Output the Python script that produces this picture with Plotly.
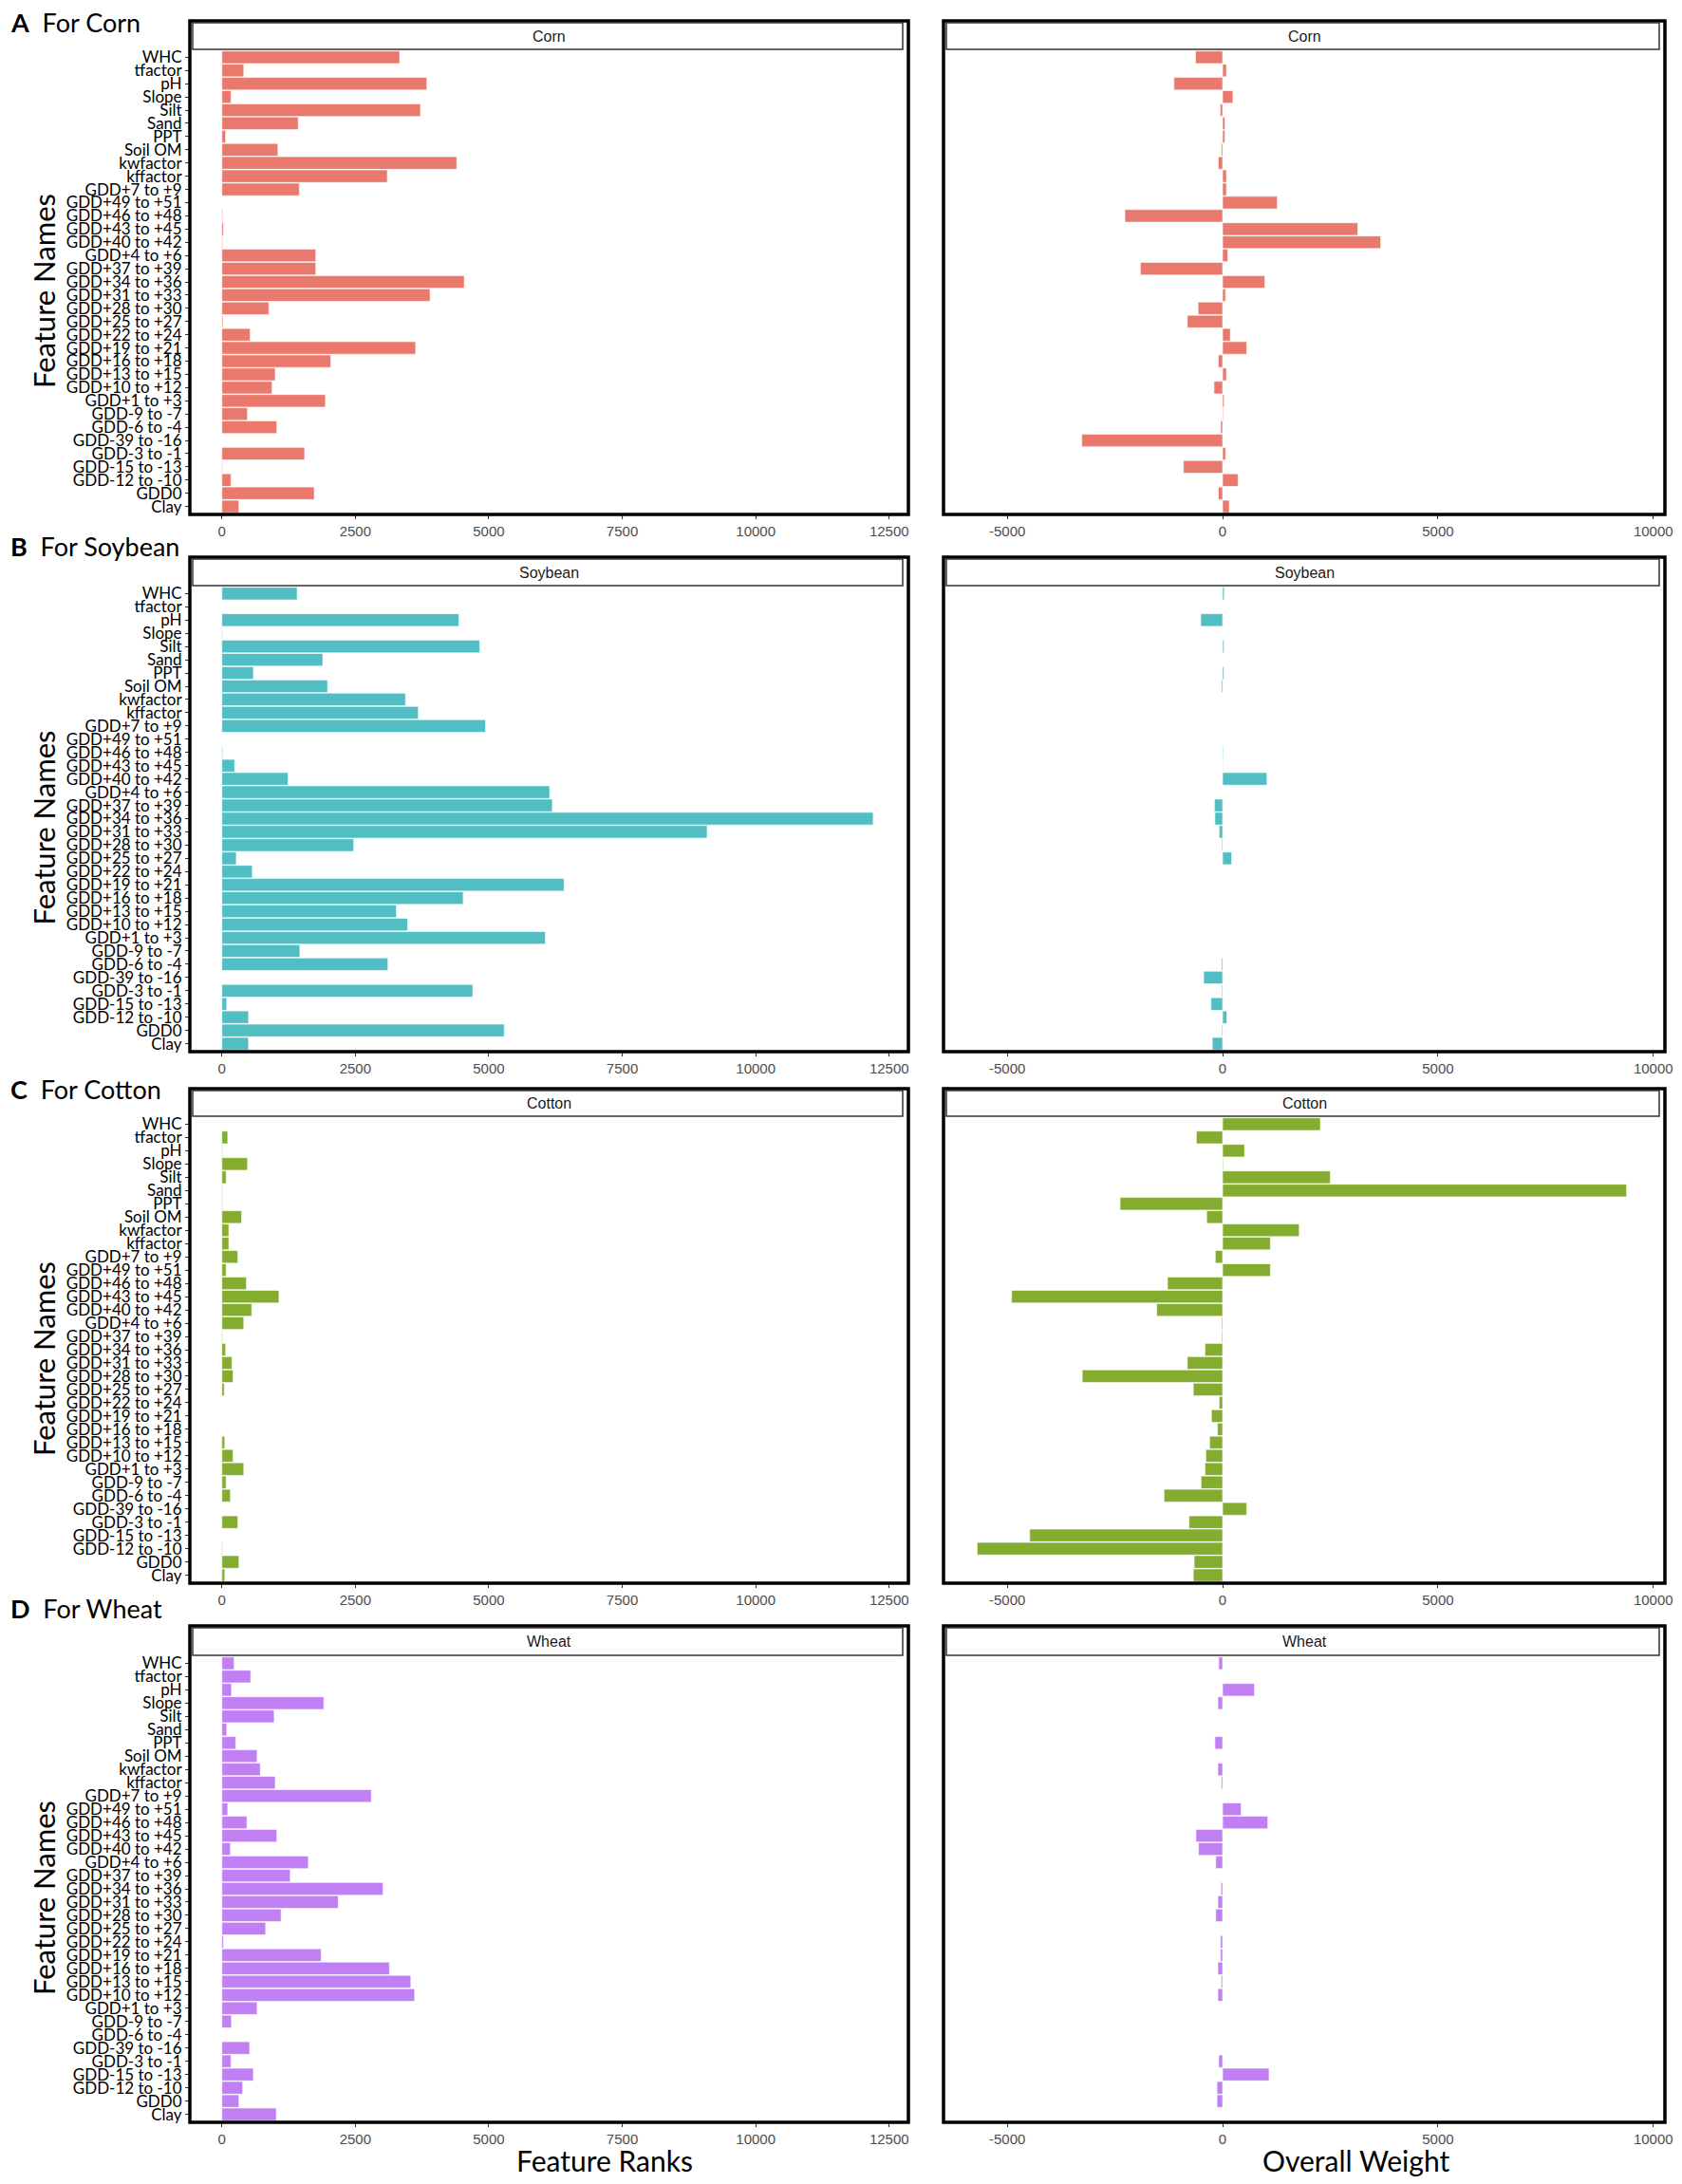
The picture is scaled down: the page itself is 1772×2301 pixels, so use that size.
import plotly.graph_objects as go

# feature names, top to bottom as in the figure
features = ["WHC", "tfactor", "pH", "Slope", "Silt", "Sand", "PPT", "Soil OM",
            "kwfactor", "kffactor", "GDD+7 to +9", "GDD+49 to +51", "GDD+46 to +48",
            "GDD+43 to +45", "GDD+40 to +42", "GDD+4 to +6", "GDD+37 to +39",
            "GDD+34 to +36", "GDD+31 to +33", "GDD+28 to +30", "GDD+25 to +27",
            "GDD+22 to +24", "GDD+19 to +21", "GDD+16 to +18", "GDD+13 to +15",
            "GDD+10 to +12", "GDD+1 to +3", "GDD-9 to -7", "GDD-6 to -4",
            "GDD-39 to -16", "GDD-3 to -1", "GDD-15 to -13", "GDD-12 to -10",
            "GDD0", "Clay"]

crops = ["Corn", "Soybean", "Cotton", "Wheat"]
panel_letters = ["A", "B", "C", "D"]

corn_rank = [3330, 410, 3840, 170, 3720, 1430, 70, 1050, 4400, 3100, 1450, 0, 15, 30,
             15, 1760, 1760, 4540, 3900, 880, 20, 530, 3630, 2040, 1000, 940, 1940,
             480, 1030, 0, 1550, 10, 170, 1730, 320]
corn_weight = [-630, 90, -1130, 240, -55, 55, 55, -30, -100, 90, 90, 1270, -2270, 3140,
               3670, 120, -1910, 980, 70, -570, -820, 180, 560, -100, 90, -200, 35, 15,
               -45, -3270, 70, -910, 360, -100, 155]

soy_rank = [1410, 0, 4440, 10, 4830, 1890, 590, 1980, 3440, 3680, 4940, 0, 15, 240,
            1240, 6140, 6190, 12200, 9090, 2470, 270, 570, 6410, 4520, 3270, 3480,
            6060, 1460, 3110, 0, 4700, 90, 500, 5290, 500]
soy_weight = [40, 0, -510, 0, 30, 0, 30, -25, 0, 0, 0, 0, 15, 10, 1030, 0, -190, -180,
              -80, -20, 210, 0, 0, 0, 0, 0, 0, 0, -25, -440, -20, -270, 100, -20, -240]

cotton_rank = [0, 110, 10, 480, 80, 10, 10, 370, 130, 130, 300, 80, 460, 1070, 560, 410,
               10, 70, 190, 210, 45, 0, 0, 0, 55, 210, 410, 80, 160, 0, 300, 0, 10, 320, 55]
cotton_weight = [2270, -610, 510, 15, 2500, 9380, -2380, -370, 1780, 1110, -170, 1110,
                 -1280, -4900, -1530, -20, -20, -410, -820, -3260, -680, -80, -260, -120,
                 -300, -390, -410, -500, -1360, 560, -780, -4480, -5700, -660, -680]

wheat_rank = [230, 540, 180, 1910, 980, 90, 260, 660, 720, 1000, 2800, 110, 470, 1030,
              160, 1620, 1280, 3020, 2180, 1110, 820, 30, 1860, 3140, 3540, 3610, 660,
              180, 0, 520, 170, 590, 390, 320, 1020]
wheat_weight = [-90, 0, 740, -110, 0, 0, -180, 0, -110, -30, 0, 430, 1050, -620, -560,
                -160, 0, -40, -110, -160, 0, -50, -50, -110, -30, -110, 0, 0, 0, 0, -90,
                1080, -130, -130, 0]

ranks = [corn_rank, soy_rank, cotton_rank, wheat_rank]
weights = [corn_weight, soy_weight, cotton_weight, wheat_weight]
colors = ["#E9796C", "#50BEC2", "#84AD30", "#C080F4"]

rank_ticks = [0, 2500, 5000, 7500, 10000, 12500]
rank_labels = ["0", "2500", "5000", "7500", "10000", "12500"]
weight_ticks = [-5000, 0, 5000, 10000]
weight_labels = ["-5000", "0", "5000", "10000"]

# the page body adds an 8px margin, so the figure is a bit smaller than the window
PAD = 8
W, H = 1772 - 2 * PAD, 2301 - 2 * PAD


def px(x):
    return (x - PAD) / W


def py(y):
    return 1 - (y - PAD) / H


# panel geometry in window pixels: (strip top, strip bottom, plot bottom)
rows_px = [(22, 52, 542), (587, 617, 1108), (1147, 1176, 1668), (1713, 1744, 2236)]
left_px = (200, 957)
right_px = (994, 1754)
heading_y = [23, 575, 1147, 1694]

fig = go.Figure()
layout = dict(
    width=W, height=H,
    margin=dict(l=0, r=0, t=0, b=0),
    paper_bgcolor="white", plot_bgcolor="white",
    showlegend=False, bargap=0.05,
    shapes=[], annotations=[],
)

tickfont = dict(family="Liberation Sans, Arial", size=15, color="#4D4D4D")

for i, crop in enumerate(crops):
    top, sbot, bot = rows_px[i]
    for j, (vals, xr, ticks, labels, cols) in enumerate([
        (ranks[i], [-600, 12860], rank_ticks, rank_labels, left_px),
        (weights[i], [-6480, 10270], weight_ticks, weight_labels, right_px),
    ]):
        n = i * 2 + j + 1
        xa = "x" if n == 1 else f"x{n}"
        ya = "y" if n == 1 else f"y{n}"
        fig.add_trace(go.Bar(
            x=vals, y=features, orientation="h", xaxis=xa, yaxis=ya,
            marker=dict(color=colors[i], line=dict(color="white", width=0.6)),
        ))
        layout["xaxis" if n == 1 else f"xaxis{n}"] = dict(
            domain=[px(cols[0]), px(cols[1])], anchor=ya, range=xr,
            tickmode="array", tickvals=ticks, ticktext=labels, tickfont=tickfont,
            ticks="outside", ticklen=4, tickcolor="#333333",
            showgrid=False, zeroline=False, showline=False, automargin=False,
        )
        yax = dict(
            domain=[py(bot), py(sbot)], anchor=xa,
            categoryorder="array", categoryarray=features,
            range=[len(features) - 0.4, -0.6],
            showgrid=False, zeroline=False, showline=False, automargin=False,
        )
        if j == 0:
            yax.update(tickmode="array", tickvals=features, ticktext=features,
                       ticks="outside", ticklen=4, tickcolor="#333333",
                       tickfont=dict(family="Lato, Open Sans", size=17, color="black"))
        else:
            yax.update(showticklabels=False, ticks="")
        layout["yaxis" if n == 1 else f"yaxis{n}"] = yax

        # outer frame and strip
        layout["shapes"].append(dict(
            type="rect", xref="paper", yref="paper",
            x0=px(cols[0]), x1=px(cols[1]), y0=py(bot), y1=py(top),
            line=dict(color="black", width=3.5), fillcolor="rgba(0,0,0,0)",
        ))
        layout["shapes"].append(dict(
            type="rect", xref="paper", yref="paper",
            x0=px(cols[0] + 3), x1=px(cols[1] - 6), y0=py(sbot), y1=py(top + 2),
            line=dict(color="#333333", width=1.5), fillcolor="white",
        ))
        layout["annotations"].append(dict(
            text=crop, xref="paper", yref="paper", showarrow=False,
            x=px((cols[0] + cols[1]) / 2), y=py((top + sbot) / 2 + 1),
            xanchor="center", yanchor="middle",
            font=dict(family="Liberation Sans, Arial", size=16, color="#1A1A1A"),
        ))

    # panel heading and y title
    layout["annotations"].append(dict(
        text=f"<b>{panel_letters[i]}</b>  For {crop}", xref="paper", yref="paper",
        showarrow=False, x=px(10), y=py(heading_y[i]), xanchor="left", yanchor="middle",
        borderpad=0, font=dict(family="Lato, Open Sans", size=27, color="black"),
    ))
    layout["annotations"].append(dict(
        text="Feature Names", xref="paper", yref="paper", showarrow=False,
        x=px(46), y=py((sbot + bot) / 2 + 10), textangle=-90,
        xanchor="center", yanchor="middle",
        font=dict(family="Lato, Open Sans", size=31, color="black"),
    ))

for text, xc in [("Feature Ranks", 637), ("Overall Weight", 1428)]:
    layout["annotations"].append(dict(
        text=text, xref="paper", yref="paper", showarrow=False,
        x=px(xc), y=py(2276), xanchor="center", yanchor="middle", borderpad=0,
        font=dict(family="Lato, Open Sans", size=30, color="black"),
    ))

fig.update_layout(**layout)
fig.write_html("out.html")
